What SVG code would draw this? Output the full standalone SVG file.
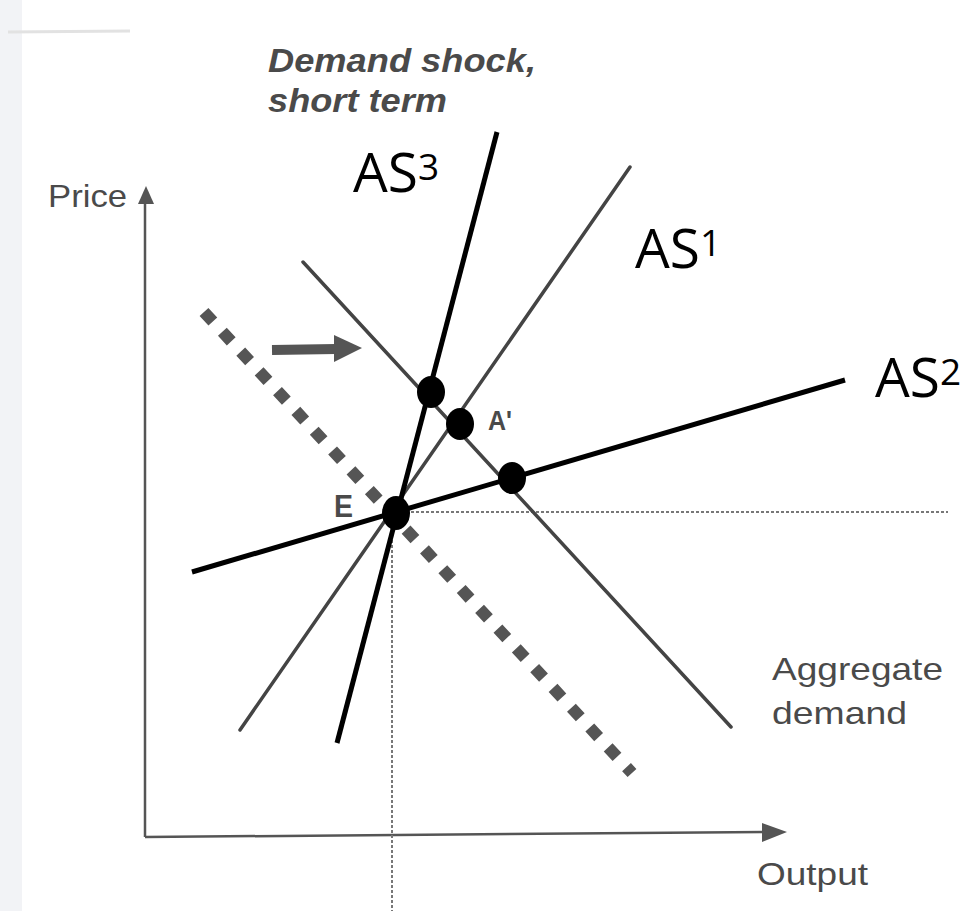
<svg xmlns="http://www.w3.org/2000/svg" width="964" height="911" viewBox="0 0 964 911">
  <defs>
    <style>
      .scan { font-family: "Liberation Sans", Arial, sans-serif; fill: #4a4a4a; }
      .title { font-weight: bold; font-style: italic; font-size: 33px; }
      .lbl { font-size: 32px; }
      .ov { font-family: "Open Sans", "Liberation Sans", sans-serif; fill: #000; font-size: 55px; }
      .sup { font-size: 37px; }
      .axis { stroke: #555; stroke-width: 2.5; fill: none; }
      .grayline { stroke: #444; stroke-width: 3.5; fill: none; stroke-linecap: round; }
      .blackline { stroke: #000; stroke-width: 5; fill: none; }
      .dotted { stroke: #777; stroke-width: 2; stroke-dasharray: 3 2; fill: none; }
      .dashed { stroke: #555; stroke-width: 12; stroke-dasharray: 13 14; fill: none; }
      .dot { fill: #000; }
    </style>
  </defs>

  <rect x="0" y="0" width="964" height="911" fill="#ffffff"/>
  <rect x="0" y="0" width="22" height="911" fill="#f2f3f6"/>
  <line x1="8" y1="32" x2="130" y2="31" stroke="#e2e2e2" stroke-width="3"/>

  <g id="axes">
    <line class="axis" x1="145" y1="200" x2="145" y2="837"/>
    <polygon points="146,186 138,204 154,204" fill="#555"/>
    <line class="axis" x1="145" y1="837" x2="768" y2="832"/>
    <polygon points="787,832 762,823 762,842" fill="#555"/>
  </g>

  <g id="connectors">
    <line class="dotted" x1="396" y1="512" x2="948" y2="512"/>
    <line class="dotted" x1="392" y1="515" x2="392" y2="911"/>
    <line class="dashed" x1="204" y1="312" x2="632" y2="773"/>
    <line class="grayline" x1="303" y1="262" x2="731" y2="727"/>
    <line class="grayline" x1="240" y1="730" x2="630" y2="167"/>
    <g id="shift-arrow" fill="#555">
      <line x1="272" y1="350" x2="336" y2="349" stroke="#555" stroke-width="10"/>
      <polygon points="334,335 362,348 334,362"/>
    </g>
    <line class="blackline" x1="337" y1="743" x2="497" y2="132"/>
    <line class="blackline" x1="192" y1="572" x2="845" y2="380"/>
  </g>

  <g id="title">
    <text class="scan title" x="268" y="72" textLength="268" lengthAdjust="spacingAndGlyphs">Demand shock,</text>
    <text class="scan title" x="268" y="112" textLength="179" lengthAdjust="spacingAndGlyphs">short term</text>
  </g>
  <g id="price-label"><text class="scan lbl" x="48" y="207" textLength="79" lengthAdjust="spacingAndGlyphs">Price</text></g>
  <g id="output-label"><text class="scan lbl" x="757" y="885" textLength="111" lengthAdjust="spacingAndGlyphs">Output</text></g>
  <g id="ad-label">
    <text class="scan lbl" x="772" y="680" textLength="171" lengthAdjust="spacingAndGlyphs">Aggregate</text>
    <text class="scan lbl" x="772" y="724" textLength="135" lengthAdjust="spacingAndGlyphs">demand</text>
  </g>

  <g id="node-E">
    <text class="scan lbl" x="334" y="517" textLength="19" lengthAdjust="spacingAndGlyphs" style="font-weight:bold">E</text>
    <ellipse class="dot" cx="396" cy="513" rx="14" ry="17"/>
  </g>
  <g id="node-A1">
    <text class="scan" x="488" y="430" style="font-size:28px;font-weight:bold" textLength="24" lengthAdjust="spacingAndGlyphs">A'</text>
    <ellipse class="dot" cx="460" cy="424" rx="14" ry="16"/>
  </g>
  <g id="node-AS3-AD"><ellipse class="dot" cx="431" cy="392" rx="14" ry="16"/></g>
  <g id="node-AS2-AD"><ellipse class="dot" cx="512" cy="478" rx="14" ry="16"/></g>

  <g id="label-AS3"><text class="ov" x="353" y="192">AS<tspan class="sup" dy="-12">3</tspan></text></g>
  <g id="label-AS1"><text class="ov" x="635" y="268">AS<tspan class="sup" dy="-12">1</tspan></text></g>
  <g id="label-AS2"><text class="ov" x="875" y="397">AS<tspan class="sup" dy="-12">2</tspan></text></g>
</svg>
